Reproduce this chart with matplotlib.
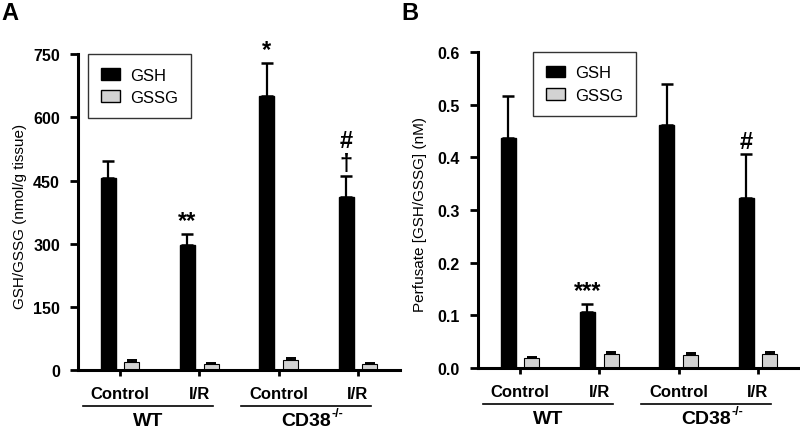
import numpy as np
import matplotlib
matplotlib.use("Agg")
import matplotlib.pyplot as plt
from matplotlib.patches import Patch

plt.rcParams['font.family'] = ['Liberation Sans', 'DejaVu Sans']

conditions = ["Control", "I/R", "Control", "I/R"]
genotypes = ["WT", "CD38"]
genotype_sup = ["", "-/-"]

# panel A: tissue GSH / GSSG (nmol/g tissue)
tissue_gsh = [457, 298, 650, 412]
tissue_gsh_err = [40, 25, 80, 48]
tissue_gssg = [20, 14, 25, 14]
tissue_gssg_err = [3, 3, 3, 3]
tissue_marks = ["", "**", "*", "#\n†"]

# panel B: perfusate GSH / GSSG (nM)
perf_gsh = [0.437, 0.106, 0.462, 0.323]
perf_gsh_err = [0.080, 0.016, 0.078, 0.083]
perf_gssg = [0.018, 0.026, 0.025, 0.027]
perf_gssg_err = [0.002, 0.005, 0.003, 0.003]
perf_marks = ["", "***", "", "#"]

gray = "#d3d3d3"


def draw_panel(ax, gsh, gsh_err, gssg, gssg_err, marks, yticks, ylabel, fmt, legend_x):
    x = np.arange(len(conditions))
    w = 0.19
    off = 0.15
    ax.bar(x - off, gsh, w, color="black", edgecolor="black", zorder=2)
    ax.bar(x + off, gssg, w, color=gray, edgecolor="black", linewidth=0.8, zorder=2)
    ax.errorbar(x - off, gsh, yerr=[np.zeros(len(gsh)), gsh_err], fmt="none",
                ecolor="black", elinewidth=1.6, capsize=4, capthick=1.8, zorder=3)
    ax.errorbar(x + off, gssg, yerr=[np.zeros(len(gssg)), gssg_err], fmt="none",
                ecolor="black", elinewidth=1.2, capsize=3.5, capthick=1.4, zorder=3)

    top = yticks[-1]
    for xi, g, e, m in zip(x, gsh, gsh_err, marks):
        if m:
            ax.text(xi - off, g + e + top * 0.005, m, ha="center", va="bottom",
                    fontsize=17, fontweight="bold", linespacing=1.0)

    ax.set_xlim(-0.53, 3.53)
    ax.set_ylim(0, top)
    ax.set_yticks(yticks)
    ax.set_yticklabels([fmt.format(v) for v in yticks], fontsize=11.5, fontweight="bold")
    ax.set_xticks(x)
    ax.set_xticklabels([])
    ax.tick_params(axis="y", direction="out", length=6, width=2, pad=7)
    ax.tick_params(axis="x", direction="out", length=4, width=2)
    ax.spines["top"].set_visible(False)
    ax.spines["right"].set_visible(False)
    ax.spines["left"].set_linewidth(2.2)
    ax.spines["bottom"].set_linewidth(2.2)
    ax.set_ylabel(ylabel, fontsize=11, va="center")
    ax.yaxis.set_label_coords(-0.18, 0.49)

    tr = ax.get_xaxis_transform()
    for xi, c in zip(x, conditions):
        ax.text(xi, -0.075, c, transform=tr, ha="center", va="center",
                fontsize=12, fontweight="bold")
    for gi, name in enumerate(genotypes):
        x0, x1 = 2 * gi - 0.47, 2 * gi + 1.17
        ax.plot([x0, x1], [-0.113, -0.113], transform=tr, color="black",
                lw=1.2, clip_on=False)
        t = ax.text((x0 + x1) / 2, -0.16, name, transform=tr, ha="center",
                    va="center", fontsize=14, fontweight="bold")
        if genotype_sup[gi]:
            ax.annotate(genotype_sup[gi], xy=(1.0, 0.95), xycoords=t,
                        ha="left", va="center", fontsize=9, fontweight="bold")

    handles = [Patch(facecolor="black", edgecolor="black", label="GSH"),
               Patch(facecolor=gray, edgecolor="black", label="GSSG")]
    leg = ax.legend(handles=handles, loc="upper left", bbox_to_anchor=(legend_x, 1.0),
                    fancybox=False, edgecolor="black", fontsize=12,
                    handlelength=1.1, handleheight=0.7, handletextpad=0.6,
                    borderpad=0.8, borderaxespad=0, labelspacing=0.45)
    leg.get_frame().set_linewidth(1.0)


fig = plt.figure(figsize=(8, 4.31), dpi=100)
ax1 = fig.add_axes([0.0975, 0.139, 0.4025, 0.733])
ax2 = fig.add_axes([0.5975, 0.144, 0.4025, 0.733])

draw_panel(ax1, tissue_gsh, tissue_gsh_err, tissue_gssg, tissue_gssg_err,
           tissue_marks, [0, 150, 300, 450, 600, 750],
           "GSH/GSSG (nmol/g tissue)", "{:.0f}", 0.031)
draw_panel(ax2, perf_gsh, perf_gsh_err, perf_gssg, perf_gssg_err,
           perf_marks, [0.0, 0.1, 0.2, 0.3, 0.4, 0.5, 0.6],
           "Perfusate [GSH/GSSG] (nM)", "{:.1f}", 0.171)

fig.text(0.002, 0.995, "A", fontsize=17, fontweight="bold", va="top")
fig.text(0.502, 0.995, "B", fontsize=17, fontweight="bold", va="top")

fig.savefig("out.png", dpi=100)
